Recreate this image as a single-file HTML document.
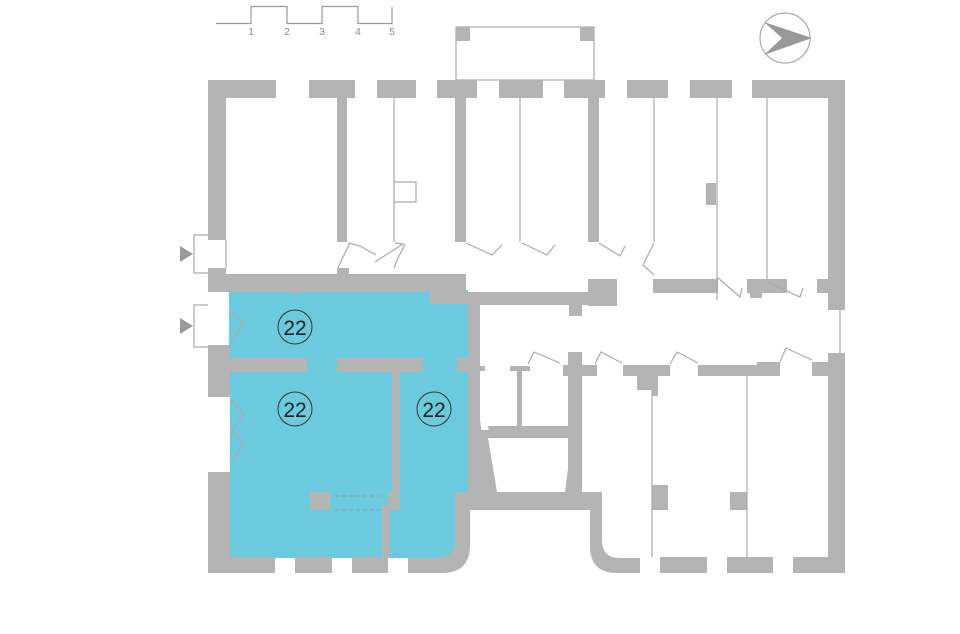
<!DOCTYPE html>
<html><head><meta charset="utf-8"><style>
html,body{margin:0;padding:0;background:#fff;}
svg{display:block;}
text{font-family:"Liberation Sans",sans-serif;}
</style></head><body>
<svg width="960" height="634" viewBox="0 0 960 634" xmlns="http://www.w3.org/2000/svg">
<rect width="960" height="634" fill="#fff"/>
<!-- scale bar -->
<polyline points="216,23.5 251,23.5 251,6.5 287,6.5 287,23.5 322,23.5 322,6.5 358,6.5 358,23.5 392,23.5 392,7" fill="none" stroke="#999" stroke-width="1.2"/>
<g font-size="10" fill="#888" text-anchor="middle">
<text x="251" y="35">1</text><text x="287" y="35">2</text><text x="322" y="35">3</text><text x="358" y="35">4</text><text x="392" y="35">5</text>
</g>
<!-- compass -->
<circle cx="785" cy="38" r="25" fill="none" stroke="#aaa" stroke-width="1.2"/>
<polygon points="812,38 764,22 782,38 764,55" fill="#999"/>
<!-- top box -->
<rect x="456" y="27" width="138" height="53" fill="none" stroke="#999" stroke-width="1"/>
<rect x="456" y="27" width="14" height="14" fill="#b4b4b4"/>
<rect x="580" y="27" width="14" height="14" fill="#b4b4b4"/>

<!-- blue areas -->
<g fill="#6ccadf">
<rect x="229" y="290" width="239" height="69"/>
<rect x="307" y="355" width="30" height="20"/>
<rect x="423" y="355" width="35" height="20"/>
<rect x="230" y="372" width="163" height="186"/>
<rect x="226" y="510" width="20" height="48"/>
<path d="M400,372 L468,372 L480,492 L455,492 L455,558 L388,558 L388,510 L400,510 Z"/>
<path d="M388,510 L455,510 L455,540 Q455,558 437,558 L388,558 Z"/>
</g>

<g fill="#b4b4b4">
<!-- top wall with windows -->
<rect x="208" y="80" width="68" height="18"/>
<rect x="309" y="80" width="46" height="18"/>
<rect x="377" y="80" width="39" height="18"/>
<rect x="437" y="80" width="40" height="18"/>
<rect x="499" y="80" width="44" height="18"/>
<rect x="564" y="80" width="41" height="18"/>
<rect x="627" y="80" width="41" height="18"/>
<rect x="690" y="80" width="42" height="18"/>
<rect x="752" y="80" width="93" height="18"/>
<!-- left wall upper -->
<rect x="208" y="80" width="18" height="160"/>
<!-- right wall -->
<rect x="828" y="80" width="17" height="230"/>
<rect x="828" y="353" width="17" height="220"/>
<!-- thick partitions -->
<rect x="337" y="98" width="10" height="144"/>
<rect x="455" y="98" width="11" height="144"/>
<rect x="588" y="98" width="11" height="144"/>
<rect x="706" y="183" width="10" height="22"/>
<!-- corridor upper wall (top of blue) -->
<rect x="208" y="268" width="18" height="24"/>
<rect x="208" y="274" width="258" height="18"/>
<rect x="337" y="268" width="12" height="8"/>
<rect x="292" y="285" width="10" height="8"/>
<rect x="430" y="292" width="38" height="12"/>
<rect x="466" y="292" width="124" height="13"/>
<rect x="588" y="279" width="29" height="27"/>
<rect x="569" y="305" width="13" height="11"/>
<rect x="653" y="279" width="65" height="14"/>
<rect x="747" y="279" width="40" height="14"/>
<rect x="750" y="290" width="12" height="8"/>
<rect x="817" y="279" width="13" height="14"/>
<!-- left wall lower -->
<rect x="208" y="345" width="22" height="52"/>
<path d="M208,472 L230,472 L230,573 L208,573 Z"/>
<!-- middle walls -->
<rect x="208" y="358" width="99" height="14"/>
<rect x="337" y="358" width="86" height="14"/>
<rect x="457" y="358" width="23" height="14"/>
<rect x="392" y="372" width="8" height="138"/>
<rect x="382" y="505" width="8" height="53"/>
<rect x="388" y="492" width="10" height="18"/>
<rect x="310" y="492" width="20" height="18"/>
<!-- vertical wall right of blue -->
<rect x="468" y="303" width="12" height="189"/>
<path d="M468,420 L480,420 L490,492 L478,492 Z"/>
<!-- horizontal & lower right -->
<rect x="455" y="492" width="147" height="18"/>
<path d="M590,492 L602,492 L602,540 Q602,558 620,558 L640,558 L640,573 L617,573 Q590,573 590,546 Z"/>
<path d="M455,492 L470,492 L470,545 Q470,573 442,573 L408,573 L408,558 L437,558 Q455,558 455,540 Z"/>
<!-- bottom wall -->
<rect x="208" y="557" width="67" height="16"/>
<rect x="295" y="557" width="37" height="16"/>
<rect x="352" y="557" width="36" height="16"/>
<rect x="660" y="557" width="47" height="16"/>
<rect x="727" y="557" width="46" height="16"/>
<rect x="793" y="557" width="52" height="16"/>
<!-- small rooms -->
<rect x="568" y="352" width="14" height="140"/>
<path d="M514,426 L577,426 L577,438 L490,438 L488,426 Z"/>
<rect x="480" y="430" width="90" height="8"/>
<rect x="517" y="367" width="5" height="60"/>
<rect x="510" y="366" width="20" height="5"/>
<rect x="480" y="366" width="5" height="5"/>
<path d="M478,438 L488,438 L497,492 L485,492 Z"/>
<path d="M572,438 L582,438 L576,492 L565,492 Z"/>
<!-- corridor lower wall -->
<rect x="563" y="365" width="34" height="11"/>
<rect x="623" y="365" width="47" height="11"/>
<rect x="637" y="376" width="21" height="14"/>
<rect x="652" y="388" width="6" height="8"/>
<rect x="698" y="365" width="62" height="11"/>
<rect x="757" y="362" width="23" height="14"/>
<rect x="812" y="362" width="18" height="14"/>
<!-- pillars -->
<rect x="652" y="485" width="16" height="25"/>
<rect x="730" y="492" width="17" height="18"/>
</g>

<!-- thin lines -->
<g stroke="#aaa" stroke-width="1.2" fill="none">
<line x1="394" y1="98" x2="394" y2="242"/>
<line x1="520" y1="98" x2="520" y2="242"/>
<line x1="654" y1="98" x2="654" y2="242"/>
<line x1="717" y1="98" x2="717" y2="300"/>
<line x1="767" y1="98" x2="767" y2="279"/>
<rect x="394" y="182" width="22" height="20"/>
<line x1="226" y1="240" x2="226" y2="268"/>
<line x1="652" y1="390" x2="652" y2="557"/>
<line x1="747" y1="376" x2="747" y2="557"/>
<!-- entrance boxes -->
<polyline points="208,235 194,235 194,273 208,273"/>
<polyline points="208,305 194,305 194,347 208,347"/>
<!-- door swings upper -->
<polyline points="349,243 360,246 376,255"/>
<polyline points="350,243 344,255 338,268"/>
<polyline points="395,243 403,244 375,262"/>
<polyline points="405,244 398,258 394,268"/>
<polyline points="466,243 492,255 502,245"/>
<polyline points="522,243 547,255 555,245"/>
<polyline points="599,243 620,256 625,246"/>
<polyline points="654,243 643,265 654,275"/>
<polyline points="717,277 740,297 742,288"/>
<polyline points="767,282 800,297 803,288"/>
<!-- door swings lower -->
<polyline points="528,364 534,352 560,363"/>
<polyline points="595,364 601,352 622,363"/>
<polyline points="670,364 677,352 698,363"/>
<polyline points="780,362 786,348 812,360"/>
<polyline points="232,310 244,325 232,340"/>
<polyline points="232,400 244,415 232,430"/>
<polyline points="232,430 244,445 232,460"/>
<line x1="840" y1="310" x2="840" y2="353"/>
</g>
<g stroke="#999" stroke-width="1" stroke-dasharray="4,3">
<line x1="335" y1="496" x2="380" y2="496"/>
<line x1="335" y1="510" x2="380" y2="510"/>
</g>
<!-- arrows -->
<polygon points="180,246 193,254 180,262" fill="#999"/>
<polygon points="180,318 193,326 180,334" fill="#999"/>
<!-- labels -->
<g fill="none" stroke="#333" stroke-width="1">
<circle cx="295" cy="327" r="17"/>
<circle cx="295" cy="409" r="17"/>
<circle cx="434" cy="409" r="17"/>
</g>
<g font-size="21" fill="#222" text-anchor="middle">
<text x="295" y="335">22</text>
<text x="295" y="417">22</text>
<text x="434" y="417">22</text>
</g>
</svg>
</body></html>
